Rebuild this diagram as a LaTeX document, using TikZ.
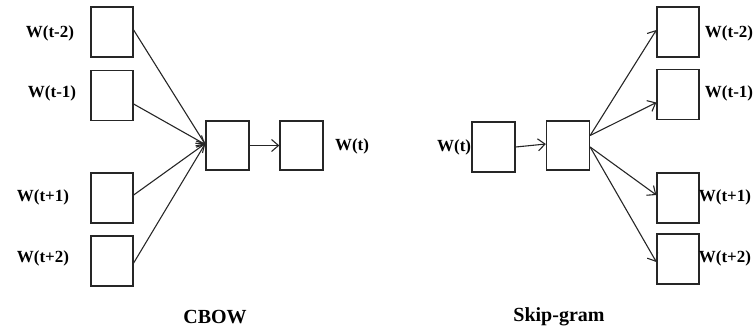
\documentclass[tikz,border=0pt]{standalone}
\usepackage{fontspec}
\setmainfont{Liberation Serif}
\usetikzlibrary{arrows.meta}
\begin{document}
\begin{tikzpicture}[x=1pt,y=-1pt,
  box/.style={draw=black!85,line width=1.3pt,minimum width=42pt,minimum height=50pt,inner sep=0pt},
  lbl/.style={font=\fontsize{17}{19}\selectfont\bfseries,inner sep=0pt},
  captext/.style={font=\fontsize{20}{23}\selectfont\bfseries,inner sep=0pt},
  arr/.style={draw=black!85,line width=1.1pt,-{Straight Barb[length=7pt,width=12pt]}}]
\useasboundingbox (0,0) rectangle (755,333);
% CBOW
\node[box] (l1) at (112,32) {};
\node[box] (l2) at (112,95.5) {};
\node[box] (l3) at (112,198) {};
\node[box] (l4) at (112,261) {};
\node[box,minimum width=43pt,minimum height=49pt] (cm) at (227.5,145.5) {};
\node[box,minimum width=43pt,minimum height=49pt] (co) at (301.5,145.5) {};
\node[lbl] (tl1) at (50,33) {W(t-2)};
\node[lbl] (tl2) at (52,93) {W(t-1)};
\node[lbl] (tl3) at (43,197) {W(t+1)};
\node[lbl] (tl4) at (43,258) {W(t+2)};
\node[lbl] (tco) at (352,146) {W(t)};
\node[captext] (cbow) at (215,317) {CBOW};
\draw[arr] ([yshift=2pt]l1.east) -- ([yshift=1pt]cm.west);
\draw[arr] ([yshift=-8.5pt]l2.east) -- ([yshift=1pt]cm.west);
\draw[arr] ([yshift=3pt]l3.east) -- ([yshift=2pt]cm.west);
\draw[arr] ([yshift=-2pt]l4.east) -- ([yshift=2pt]cm.west);
\draw[arr] (cm.east) -- (co.west);
% Skip-gram
\node[box,minimum width=43pt] (si) at (493.5,147) {};
\node[box,minimum width=43pt,minimum height=49pt] (sm) at (568,145.5) {};
\node[box] (r1) at (678,32) {};
\node[box] (r2) at (678,94.5) {};
\node[box] (r3) at (678,198) {};
\node[box] (r4) at (678,259) {};
\node[lbl,anchor=east] (tsi) at (si.west) {W(t)};
\node[lbl] (tr1) at (729,33) {W(t-2)};
\node[lbl] (tr2) at (729,93) {W(t-1)};
\node[lbl] (tr3) at (725,197) {W(t+1)};
\node[lbl] (tr4) at (725,258) {W(t+2)};
\node[captext] (skip) at (559,317) {Skip-gram};
\draw[arr] (si.east) -- ([yshift=1.5pt]sm.west);
\draw[arr] ([yshift=10pt]sm.east) -- ([yshift=2pt]r1.west);
\draw[arr] ([yshift=10pt]sm.east) -- ([yshift=-8pt]r2.west);
\draw[arr] ([yshift=-1.5pt]sm.east) -- ([yshift=3pt]r3.west);
\draw[arr] ([yshift=-1.5pt]sm.east) -- ([yshift=-3pt]r4.west);
\end{tikzpicture}
\end{document}
